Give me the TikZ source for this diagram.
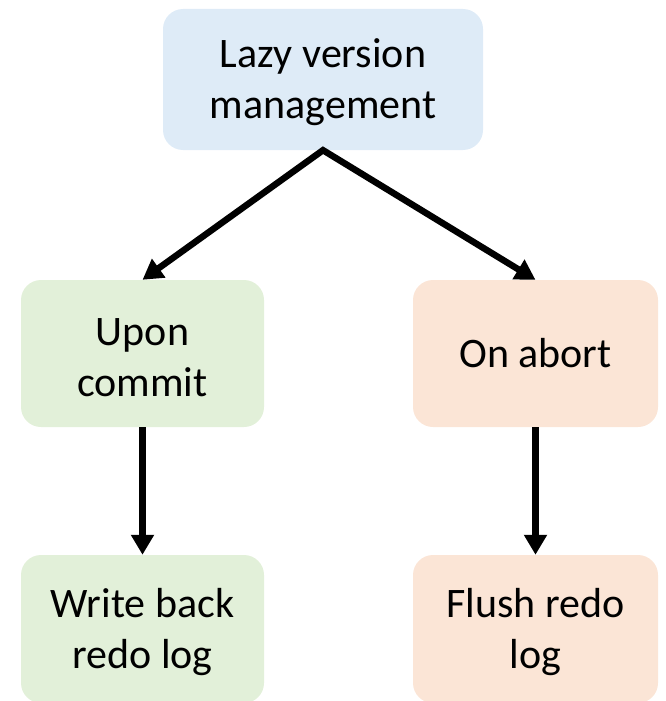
\documentclass[tikz,border=0pt]{standalone}
\usepackage{fontspec}
\setmainfont{Carlito}
\usetikzlibrary{arrows.meta}
\definecolor{boxblue}{HTML}{DEEBF7}
\definecolor{boxgreen}{HTML}{E2F0D9}
\definecolor{boxorange}{HTML}{FBE5D6}
\newcommand{\topstrut}{\rule{0pt}{35pt}}
\tikzset{
  box/.style={rounded corners=20pt, inner sep=0pt, align=center,
    font=\fontsize{42}{51}\selectfont, text=black},
  arr/.style={line width=6.5pt, draw=black,
    arrows={-{Triangle[length=20pt,width=22pt]}}},
}
\begin{document}
\begin{tikzpicture}[x=1pt,y=1pt]
\useasboundingbox (0,0) rectangle (665,-701);
\node[box, fill=boxblue, minimum width=320pt, minimum height=141pt] (top) at (323,-79.5) {\topstrut Lazy version\\management};
\node[box, fill=boxgreen, minimum width=243pt, minimum height=147pt] (commit) at (142.5,-353.5) {\topstrut Upon\\commit};
\node[box, fill=boxorange, minimum width=245pt, minimum height=147pt] (abort) at (535.5,-353.5) {On abort};
\node[box, fill=boxgreen, minimum width=243pt, minimum height=148pt] (writeback) at (142.5,-629) {\topstrut Write back\\redo log};
\node[box, fill=boxorange, minimum width=245pt, minimum height=148pt] (flush) at (535.5,-629) {\topstrut Flush redo\\log};
\draw[arr, arrows={{Triangle[length=20pt,width=22pt]}-{Triangle[length=20pt,width=22pt]}}, line join=miter] (commit.north) -- (top.south) -- (abort.north);
\draw[arr] (commit.south) -- (writeback.north);
\draw[arr] (abort.south) -- (flush.north);
\end{tikzpicture}
\end{document}
